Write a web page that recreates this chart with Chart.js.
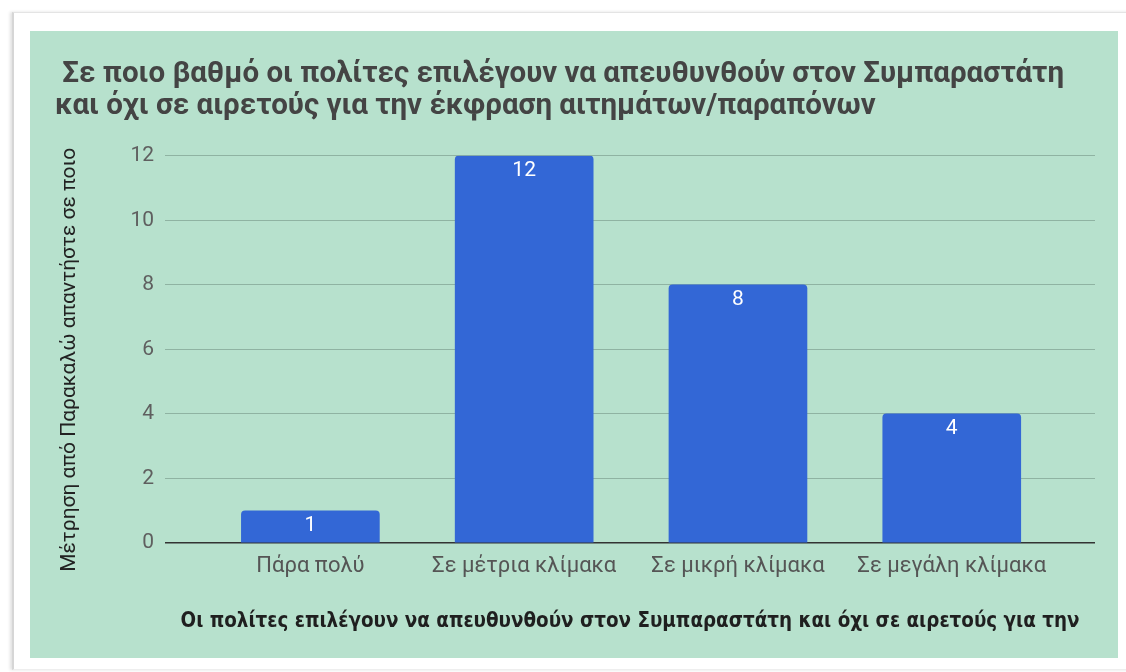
<!DOCTYPE html>
<html>
<head>
<meta charset="utf-8">
<script src="https://cdn.jsdelivr.net/npm/chart.js@4.4.1/dist/chart.umd.min.js"></script>
<style>
  body { margin: 0; background: #fff; width: 1126px; height: 672px; overflow: hidden; position: relative; }
  #frame { position: absolute; left: 12px; top: 12px; width: 1120px; height: 656px;
           border-left: 2px solid #d6d6d6; border-top: 1px solid #e4e4e4; border-bottom: 1px solid #eee;
           box-shadow: -2px 0 3px rgba(0,0,0,0.12); }
  #panel { position: absolute; left: 30px; top: 31px; width: 1088px; height: 627px; background: #b7e1cd; }
</style>
</head>
<body>
<div id="frame"></div>
<div id="panel"><canvas id="chart"></canvas></div>
<script>
const categories = ["Πάρα πολύ", "Σε μέτρια κλίμακα", "Σε μικρή κλίμακα", "Σε μεγάλη κλίμακα"];
const counts = [1, 12, 8, 4];
const yTicks = [0, 2, 4, 6, 8, 10, 12];

const titleLines = [" Σε ποιο βαθμό οι πολίτες επιλέγουν να απευθυνθούν στον Συμπαραστάτη",
                    "και όχι σε αιρετούς για την έκφραση αιτημάτων/παραπόνων"];
const yTitle = "Μέτρηση από Παρακαλώ απαντήστε σε ποιο    ";
const xTitle = "Οι πολίτες επιλέγουν να απευθυνθούν στον Συμπαραστάτη και όχι σε αιρετούς για την";

// white value labels inside the top of each bar
const barLabels = {
    id: "barLabels",
    afterDatasetsDraw(chart) {
        const ctx = chart.ctx;
        const meta = chart.getDatasetMeta(0);
        ctx.save();
        ctx.fillStyle = "#ffffff";
        ctx.font = "21px Roboto";
        ctx.textAlign = "center";
        ctx.textBaseline = "middle";
        meta.data.forEach((bar, i) => {
            ctx.fillText(String(counts[i]), bar.x, bar.y + 15);
        });
        ctx.restore();
    }
};

new Chart(document.getElementById("chart"), {
    type: "bar",
    data: {
        datasets: [{
            data: counts.map((v, i) => ({ x: i, y: v })),
            backgroundColor: "#3367d6",
            borderRadius: { topLeft: 4, topRight: 4 },
            borderSkipped: "bottom",
            barThickness: 138
        }]
    },
    options: {
        responsive: true,
        maintainAspectRatio: false,
        animation: false,
        layout: { padding: { left: 25, right: 23, top: 0, bottom: 0 } },
        plugins: {
            legend: { display: false },
            tooltip: { enabled: false },
            title: {
                display: true,
                text: titleLines,
                align: "start",
                color: "#444444",
                font: { family: "Roboto", size: 29.5, weight: "bold", lineHeight: 1.08 },
                padding: { top: 28, bottom: 33 }
            }
        },
        scales: {
            x: {
                type: "linear",
                offset: false,
                min: -0.68,
                max: 3.67,
                grid: { display: false, drawTicks: false, offset: false },
                border: { display: false },
                afterBuildTicks: (scale) => { scale.ticks = categories.map((c, i) => ({ value: i })); },
                afterFit: (scale) => { scale.height = 115; },
                ticks: {
                    autoSkip: false,
                    maxRotation: 0,
                    padding: 10,
                    color: "#555555",
                    font: { family: "Roboto", size: 22 },
                    callback: (v) => categories[v]
                },
                title: {
                    display: true,
                    text: xTitle,
                    color: "#1f1f1f",
                    font: { family: "DejaVu Sans Condensed, Roboto", size: 20.4, weight: "bold", lineHeight: 1.2 },
                    padding: { bottom: 24 }
                }
            },
            y: {
                min: 0,
                max: 12,
                afterBuildTicks: (scale) => { scale.ticks = yTicks.map(v => ({ value: v })); },
                afterFit: (scale) => { scale.width = 110; },
                border: { display: false },
                grid: {
                    drawTicks: false,
                    color: (c) => c.tick.value === 0 ? "#333333" : "#8fb3a2",
                    lineWidth: (c) => c.tick.value === 0 ? 1.5 : 1
                },
                ticks: {
                    padding: 11,
                    color: "#5f5f5f",
                    font: { family: "Roboto", size: 21 }
                },
                title: {
                    display: true,
                    text: yTitle,
                    color: "#222222",
                    font: { family: "Roboto", size: 21, lineHeight: 1.2 },
                    padding: { top: 2.5 }
                }
            }
        }
    },
    plugins: [barLabels]
});
</script>
</body>
</html>
